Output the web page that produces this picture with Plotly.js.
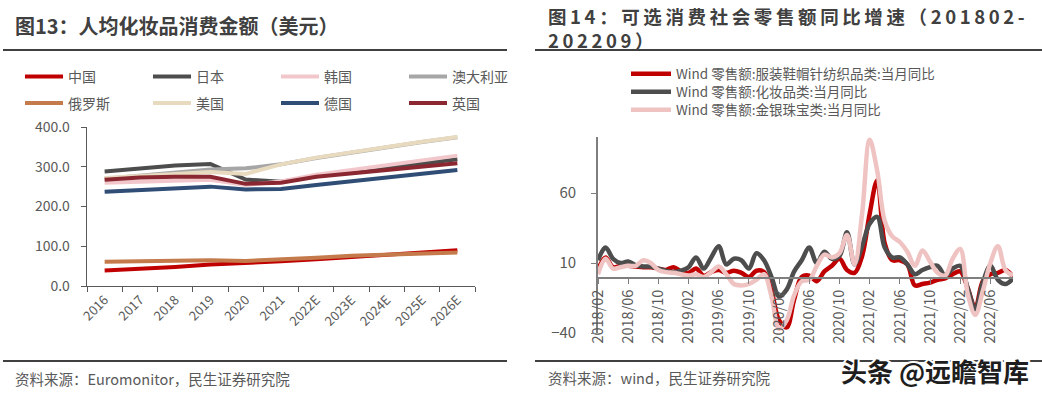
<!DOCTYPE html>
<html><head><meta charset="utf-8">
<script src="https://cdn.plot.ly/plotly-3.0.1.min.js"></script>
<style>html,body{margin:0;padding:0;background:#fff;} #chart{width:1042px;height:395px;}</style>
</head><body><div id="chart"></div>
<script>
const W = 1042, H = 395;
// ---- Left chart data (人均化妆品消费金额, 美元) ----
const years = ['2016','2017','2018','2019','2020','2021','2022E','2023E','2024E','2025E','2026E'];
const china     = [39, 43, 48, 54, 57, 62, 67, 73, 79, 85, 90];
const japan     = [288, 296, 303, 307, 268, 262, 276, 287, 298, 309, 319];
const korea     = [260, 263, 266, 267, 254, 263, 280, 292, 304, 316, 328];
const australia = [270, 278, 286, 293, 296, 306, 322, 336, 349, 362, 374];
const russia    = [61, 62, 63, 65, 63, 66, 71, 76, 79, 82, 84];
const usa       = [272, 277, 282, 287, 282, 306, 323, 337, 350, 363, 375];
const germany   = [237, 242, 246, 250, 243, 244, 254, 264, 273, 284, 292];
const uk        = [267, 273, 275, 275, 257, 260, 275, 284, 292, 301, 309];
const leftNames = ['中国','日本','韩国','澳大利亚','俄罗斯','美国','德国','英国'];
const yTicksLeft = [0, 100, 200, 300, 400];

// ---- Right chart data (可选消费社零同比, %) ----
const months = [
 '2018/02','2018/03','2018/04','2018/05','2018/06','2018/07','2018/08','2018/09','2018/10','2018/11','2018/12',
 '2019/01','2019/02','2019/03','2019/04','2019/05','2019/06','2019/07','2019/08','2019/09','2019/10','2019/11','2019/12',
 '2020/01','2020/02','2020/03','2020/04','2020/05','2020/06','2020/07','2020/08','2020/09','2020/10','2020/11','2020/12',
 '2021/01','2021/02','2021/03','2021/04','2021/05','2021/06','2021/07','2021/08','2021/09','2021/10','2021/11','2021/12',
 '2022/01','2022/02','2022/03','2022/04','2022/05','2022/06','2022/07','2022/08','2022/09'];
const monthTicks = ['2018/02','2018/06','2018/10','2019/02','2019/06','2019/10','2020/02','2020/06','2020/10','2021/02','2021/06','2021/10','2022/02','2022/06'];
const apparel = [5,14,7,8,8,7.5,7,7,6,5,7,
 4,3,6,1,3.5,5,3,4.5,3,0,4.5,3.5,
 -10,-31,-36,-16,0,1,-3,4,8,13,5,3,
 15,45,69,24,12,12,9,-6,-5,-4,-2,-1,
 2,4,-8,-22,-3,2,3,5,0];
const cosmetics = [12,21,13,10,11,8.5,7.5,7.5,6,4.5,3.5,
 4.5,7,14,6,14,22,9,13,12,6,17,12,
 0,-14,-9,4,12,21,10,18,13,15,32,9,
 22,38,43,21,14,14,9,2,5,7,8,1,
 6,8,-8,-23,-4,8,-2,-5,-1];
const jewelry = [2,13,6,7,8,8,12,10,5,3.5,3,
 2,1,2,0,3.5,7.5,2,-5,-6,-5,-2,2,
 -14,-37,-31,-13,-3,-2,8,16,14,17,30,9,
 45,98,76,40,29,25,18,8,19,11,3,1,
 13,20,-12,-27,-10,10,22,5,1];
const rightNames = ['Wind 零售额:服装鞋帽针纺织品类:当月同比','Wind 零售额:化妆品类:当月同比','Wind 零售额:金银珠宝类:当月同比'];
const yTicksRight = [-40, 10, 60];

const FONT = '"Noto Sans CJK SC","Noto Sans",sans-serif';
const px = x => x / W;
const py = y => 1 - y / H;

const leftSeries = [china, japan, korea, australia, russia, usa, germany, uk];
const leftColors = ['#C00000','#4D4D4D','#F2C7CC','#A6A6A6','#C47A4B','#E8DABF','#2F4D75','#8B2731'];
const traces = [];
leftSeries.forEach((s, i) => {
  traces.push({x: years, y: s, name: leftNames[i], type: 'scatter', mode: 'lines',
    line: {color: leftColors[i], width: 4}, xaxis: 'x', yaxis: 'y',
    legend: i < 4 ? 'legend' : 'legend2', hoverinfo: 'skip'});
});
const rightSeries = [apparel, cosmetics, jewelry];
const rightColors = ['#C00000','#4D4D4D','#F0C3C3'];
const rightLegends = ['legend3', 'legend4', 'legend5'];
rightSeries.forEach((s, i) => {
  traces.push({x: months, y: s, name: rightNames[i], type: 'scatter', mode: 'lines',
    line: {color: rightColors[i], width: 4.5, shape: 'spline', smoothing: 1}, xaxis: 'x2', yaxis: 'y2',
    legend: rightLegends[i], hoverinfo: 'skip'});
});

const y2Range = [-40, 100];
const y2Dom = [py(333), py(137)];
const zeroPos = y2Dom[0] + (0 - y2Range[0]) / (y2Range[1] - y2Range[0]) * (y2Dom[1] - y2Dom[0]);

const axisFont = {family: FONT, size: 14, color: '#595959'};
const legFont = {family: FONT, size: 14, color: '#595959'};
const legFontR = {family: FONT, size: 13.5, color: '#595959'};
const hLeg = (top) => ({orientation: 'h', x: px(20), xanchor: 'left', y: py(top), yanchor: 'top',
    entrywidth: 75, entrywidthmode: 'pixels', itemwidth: 38, font: legFont, bgcolor: 'rgba(0,0,0,0)', traceorder: 'normal'});
const vLeg = (top) => ({orientation: 'v', x: px(626), xanchor: 'left', y: py(top), yanchor: 'top',
    itemwidth: 40, font: legFontR, bgcolor: 'rgba(0,0,0,0)', traceorder: 'normal'});

const layout = {
  width: W, height: H, margin: {l: 0, r: 0, t: 0, b: 0},
  paper_bgcolor: '#fff', plot_bgcolor: 'rgba(0,0,0,0)',
  font: {family: FONT},
  showlegend: true,
  xaxis: {domain: [px(87), px(475)], anchor: 'y', type: 'category', range: [-0.5, 10.5],
    showline: true, linecolor: '#595959', linewidth: 1.3, ticks: 'outside', tickson: 'boundaries',
    ticklen: 5, tickcolor: '#595959', tickangle: -45, tickfont: {family: FONT, size: 13, color: '#595959'},
    showgrid: false, zeroline: false, fixedrange: true},
  yaxis: {domain: [py(286), py(127)], anchor: 'x', range: [0, 400], tickvals: yTicksLeft, tickformat: '.1f',
    showline: true, linecolor: '#595959', linewidth: 1.3, ticks: 'outside', ticklen: 5, tickcolor: '#595959',
    ticklabelstandoff: 8, tickfont: axisFont, showgrid: false, zeroline: false, fixedrange: true},
  xaxis2: {domain: [px(598), px(1013)], anchor: 'free', position: zeroPos, type: 'category', range: [0, 55],
    tickmode: 'array', tickvals: monthTicks, ticktext: monthTicks, tickangle: -90,
    showline: true, linecolor: '#7F7F7F', linewidth: 1.8, ticks: 'outside', ticklen: 5, tickcolor: '#7F7F7F',
    tickfont: {family: FONT, size: 14.5, color: '#595959'}, showgrid: false, zeroline: false, fixedrange: true},
  yaxis2: {domain: y2Dom, anchor: 'x2', range: y2Range, tickvals: yTicksRight,
    showline: true, linecolor: '#7F7F7F', linewidth: 1.8, ticks: 'outside', ticklen: 5, tickcolor: '#7F7F7F',
    ticklabelstandoff: 12, tickfont: {family: FONT, size: 15, color: '#595959'},
    showgrid: false, zeroline: false, fixedrange: true},
  legend: hLeg(61),
  legend2: hLeg(87.5),
  legend3: vLeg(58.5),
  legend4: vLeg(76.5),
  legend5: vLeg(94.5),
  shapes: [
    {type: 'line', xref: 'paper', yref: 'paper', x0: px(3), x1: px(507), y0: py(50), y1: py(50), line: {color: '#404040', width: 2}},
    {type: 'line', xref: 'paper', yref: 'paper', x0: px(535), x1: px(1042), y0: py(50), y1: py(50), line: {color: '#404040', width: 2}},
    {type: 'line', xref: 'paper', yref: 'paper', x0: px(3), x1: px(507), y0: py(361), y1: py(361), line: {color: '#404040', width: 2}},
    {type: 'line', xref: 'paper', yref: 'paper', x0: px(535), x1: px(1042), y0: py(361), y1: py(361), line: {color: '#404040', width: 2}}
  ],
  annotations: [
    {xref: 'paper', yref: 'paper', x: px(13), y: py(25), xanchor: 'left', yanchor: 'middle', showarrow: false,
     text: '图13：人均化妆品消费金额（美元）', font: {family: FONT, size: 20, color: '#404040', weight: 700}},
    {xref: 'paper', yref: 'paper', x: px(546), y: py(1), xanchor: 'left', yanchor: 'top', showarrow: false, align: 'left',
     text: '图14：可选消费社会零售额同比增速（201802-<br>202209）', font: {family: FONT, size: 18.5, color: '#404040', weight: 700}},
    {xref: 'paper', yref: 'paper', x: px(13), y: py(378), xanchor: 'left', yanchor: 'middle', showarrow: false,
     text: '资料来源：Euromonitor，民生证券研究院', font: {family: FONT, size: 14.5, color: '#595959'}},
    {xref: 'paper', yref: 'paper', x: px(546), y: py(377), xanchor: 'left', yanchor: 'middle', showarrow: false,
     text: '资料来源：wind，民生证券研究院', font: {family: FONT, size: 14.5, color: '#595959'}},
    {xref: 'paper', yref: 'paper', x: px(935), y: py(370), xanchor: 'center', yanchor: 'middle', showarrow: false,
     text: '头条 @远瞻智库', font: {family: FONT, size: 26, color: '#1E1E1E', weight: 600}}
  ]
};

Plotly.newPlot('chart', traces, layout, {staticPlot: true, displayModeBar: false}).then(() => {
  document.querySelectorAll('.annotation-text').forEach(t => {
    const s = t.textContent;
    if (s.indexOf('图14') === 0) t.style.letterSpacing = '3.6px';
    if (s.indexOf('头条') === 0) { t.style.stroke = '#fff'; t.style.strokeWidth = '4px'; t.style.paintOrder = 'stroke'; }
  });
});
</script>
</body></html>
